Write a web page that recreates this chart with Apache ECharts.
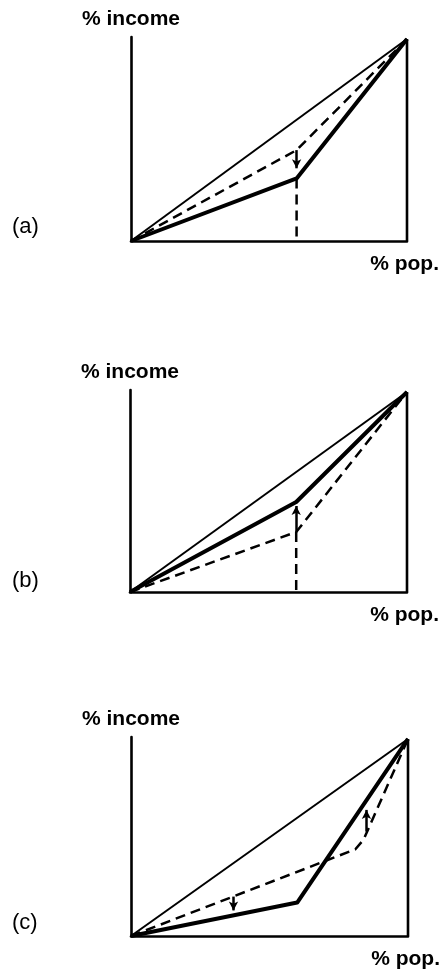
<!DOCTYPE html>
<html>
<head>
<meta charset="utf-8">
<script src="https://cdn.jsdelivr.net/npm/echarts@6/dist/echarts.min.js"></script>
<style>html,body{margin:0;padding:0;background:#fff}#c{width:447px;height:971px}</style>
</head>
<body>
<div id="c"></div>
<script>
// ---- data ----
const panelLabels = ['(a)', '(b)', '(c)'];
const yAxisName = '% income';
const xAxisName = '% pop.';
const diagonalX = [0, 100];
const diagonalY = [0, 100];
const edgeX = [100, 100];
const edgeY = [0, 100];
// panel (a)
const aSolidX = [0, 60, 100];
const aSolidY = [0, 31, 100];
const aDashX = [0, 60, 100];
const aDashY = [0, 45, 100];
const aDropX = [60, 60];
const aDropY = [31, 0];
const aArrows = [[[60, 45], [60, 36]]];
// panel (b)
const bSolidX = [0, 60, 100];
const bSolidY = [0, 45, 100];
const bDashX = [0, 60, 100];
const bDashY = [0, 30, 100];
const bDropX = [60, 60];
const bDropY = [30, 0];
const bArrows = [[[60, 30], [60, 43]]];
// panel (c)
const cSolidX = [0, 60, 100];
const cSolidY = [0, 17, 100];
const cDashX = [0, 81, 84, 100];
const cDashY = [0, 44, 49, 100];
const cArrows = [[[37, 20], [37, 13]], [[85, 53], [85, 64]]];

const zip = (xs, ys) => xs.map((x, i) => [x, ys[i]]);

const panels = [
  { solid: zip(aSolidX, aSolidY), dash: zip(aDashX, aDashY), drop: zip(aDropX, aDropY), arrows: aArrows },
  { solid: zip(bSolidX, bSolidY), dash: zip(bDashX, bDashY), drop: zip(bDropX, bDropY), arrows: bArrows },
  { solid: zip(cSolidX, cSolidY), dash: zip(cDashX, cDashY), drop: null, arrows: cArrows }
];

const grids = [
  { left: 131, top: 37, width: 276, height: 204 },
  { left: 130, top: 390, width: 277, height: 202 },
  { left: 131, top: 737, width: 277, height: 199 }
];
const labelY = [229, 583, 925];

const FONT = 'Liberation Sans';
const option = {
  animation: false,
  backgroundColor: '#fff',
  grid: grids.map(g => Object.assign({ containLabel: false }, g)),
  xAxis: grids.map((g, i) => ({
    type: 'value', gridIndex: i, min: 0, max: 100,
    axisLine: { show: true, onZero: false, lineStyle: { color: '#000', width: 2.6 } },
    axisTick: { show: false }, axisLabel: { show: false }, splitLine: { show: false },
    name: xAxisName, nameLocation: 'end', nameGap: 32,
    nameTextStyle: { fontFamily: FONT, fontWeight: 'bold', fontSize: 21, color: '#000', align: 'right', verticalAlign: 'top', padding: [13, 0, 0, 0] }
  })),
  yAxis: grids.map((g, i) => ({
    type: 'value', gridIndex: i, min: 0, max: 101,
    axisLine: { show: true, onZero: false, lineStyle: { color: '#000', width: 2.6 } },
    axisTick: { show: false }, axisLabel: { show: false }, splitLine: { show: false },
    name: yAxisName, nameLocation: 'end', nameGap: 7,
    nameTextStyle: { fontFamily: FONT, fontWeight: 'bold', fontSize: 21, color: '#000', align: 'center', padding: [0, 0, 0, 0] }
  })),
  graphic: panelLabels.map((t, i) => ({
    type: 'text', left: 12, top: labelY[i] - 13,
    style: { text: t, fontFamily: FONT, fontSize: 22, fill: '#000' }
  })),
  series: []
};

const lineBase = { type: 'line', symbol: 'none', silent: true, z: 3 };
panels.forEach((p, i) => {
  option.series.push(Object.assign({}, lineBase, {
    xAxisIndex: i, yAxisIndex: i, data: zip(diagonalX, diagonalY),
    lineStyle: { color: '#000', width: 2 }
  }));
  option.series.push(Object.assign({}, lineBase, {
    xAxisIndex: i, yAxisIndex: i, data: zip(edgeX, edgeY),
    lineStyle: { color: '#000', width: 2.6 }
  }));
  option.series.push(Object.assign({}, lineBase, {
    xAxisIndex: i, yAxisIndex: i, data: p.solid,
    lineStyle: { color: '#000', width: 4, join: 'round' }
  }));
  option.series.push(Object.assign({}, lineBase, {
    xAxisIndex: i, yAxisIndex: i, data: p.dash,
    lineStyle: { color: '#000', width: 2.5, type: [10, 6], join: 'round' },
    markLine: {
      silent: true, symbol: ['none', 'arrow'], symbolSize: [7, 9], precision: 2,
      label: { show: false },
      lineStyle: { color: '#000', width: 2.5, type: 'solid' },
      emphasis: { disabled: true },
      data: p.arrows.map(a => [{ coord: a[0] }, { coord: a[1] }])
    }
  }));
  if (p.drop) {
    option.series.push(Object.assign({}, lineBase, {
      xAxisIndex: i, yAxisIndex: i, data: p.drop,
      lineStyle: { color: '#000', width: 2.5, type: [10, 6] }
    }));
  }
});

const chart = echarts.init(document.getElementById('c'), null, { renderer: 'canvas' });
chart.setOption(option);
</script>
</body>
</html>
